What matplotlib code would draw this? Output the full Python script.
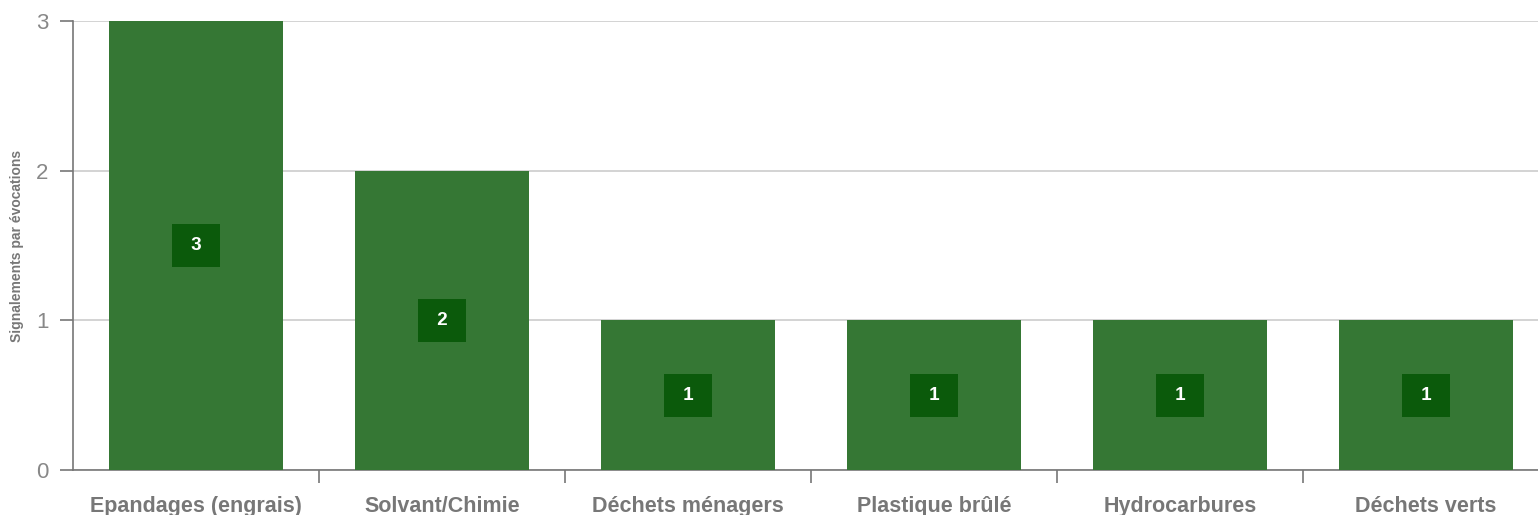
import matplotlib
matplotlib.use("Agg")
import matplotlib.pyplot as plt
import numpy as np

plt.rcParams['font.family'] = ['Liberation Sans', 'DejaVu Sans']

categories = ['Epandages (engrais)', 'Solvant/Chimie', 'Déchets ménagers',
              'Plastique brûlé', 'Hydrocarbures', 'Déchets verts']
counts = [3, 2, 1, 1, 1, 1]

bar_color = '#357734'
box_color = '#0b5a0b'
grey = '#777777'

fig = plt.figure(figsize=(15.38, 5.15), dpi=100)
ax = fig.add_axes([73 / 1538, 1 - 470 / 515, 1476 / 1538, 449 / 515])

x = np.arange(len(categories))
ax.bar(x, counts, width=0.705, color=bar_color, zorder=3)

for xi, v in zip(x, counts):
    ax.text(xi, v / 2, f' {v} ', ha='center', va='center', color='white',
            fontsize=13.5, fontweight='bold', zorder=4,
            bbox=dict(boxstyle='square,pad=0.7', fc=box_color, ec='none'))

ax.set_xlim(-0.5, len(categories) - 0.5)
ax.set_ylim(0, 3)
ax.set_yticks([0, 1, 2, 3])
ax.yaxis.grid(True, color='#cccccc', linewidth=1.2, zorder=0)

# separator ticks between categories, labels centred under bars
ax.set_xticks(x + 0.5, minor=False)
ax.set_xticklabels([])
ax.tick_params(axis='x', length=9, width=1.2, color=grey)
ax.set_xticks(x, minor=True)
ax.set_xticklabels(categories, minor=True, fontsize=15.5, fontweight='bold', color=grey)
ax.tick_params(axis='x', which='minor', length=0, pad=18.5)

ax.tick_params(axis='y', length=9.5, width=1.2, color=grey, labelsize=16,
               labelcolor='#888888', pad=8)

for s in ['top', 'right']:
    ax.spines[s].set_visible(False)
for s in ['left', 'bottom']:
    ax.spines[s].set_color(grey)
    ax.spines[s].set_linewidth(1.2)

ax.set_ylabel('Signalements par évocations', fontsize=10, fontweight='bold',
              color=grey, labelpad=9)

fig.savefig('out.png', dpi=100)
